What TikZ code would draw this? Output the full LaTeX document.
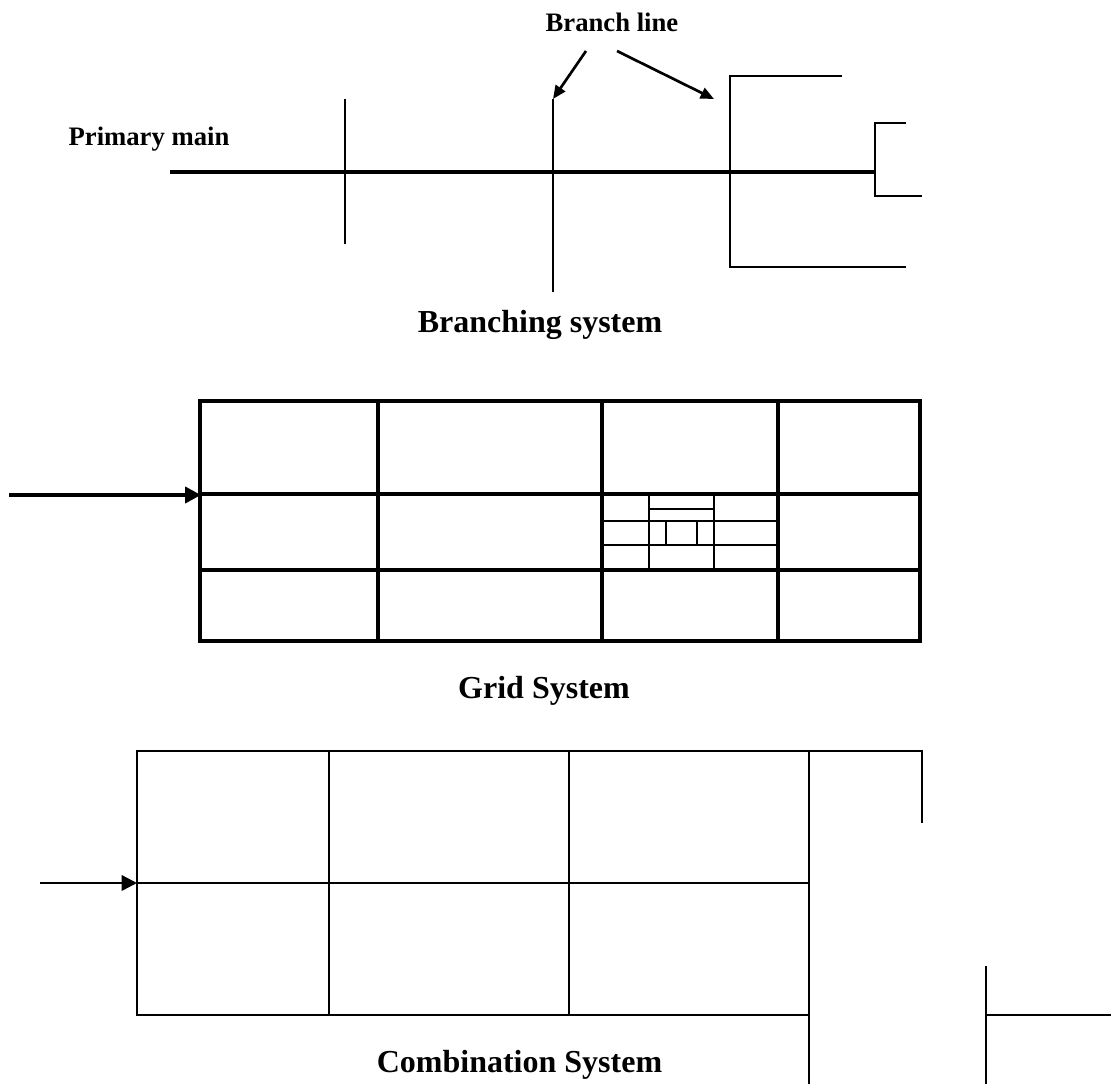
\documentclass[tikz,border=0pt]{standalone}
\usepackage{fontspec}
\setmainfont{Liberation Serif}
\usetikzlibrary{arrows.meta}
\begin{document}
\begin{tikzpicture}[x=0.75pt,y=-0.75pt,
  title/.style={font=\fontsize{24}{28}\selectfont\bfseries, anchor=base, inner sep=0pt},
  lbl/.style={font=\fontsize{20}{24}\selectfont\bfseries, anchor=base, inner sep=0pt},
  mainline/.style={line width=3.6pt},
  brline/.style={line width=1.5pt},
  brhoriz/.style={line width=2pt},
  gridline/.style={line width=3.5pt},
  subline/.style={line width=1.1pt},
  combline/.style={line width=1.5pt},
  bigarrow/.style={line width=3pt, -{Triangle[length=12pt,width=12pt]}},
  midarrow/.style={line width=1.9pt, -{Triangle[length=11.5pt,width=11.5pt]}},
  smallarrow/.style={line width=2pt, -{Triangle[length=10pt,width=8.5pt]}}]
\useasboundingbox (0,0) rectangle (1111,1084);

% ---------- Branching system ----------
\node[lbl] (branchlbl) at (612,32) {Branch line};
\node[lbl] (primarylbl) at (149,146) {Primary main};
\draw[mainline] (170,172) -- (875,172);
\draw[brline] (345,99) -- (345,244);
\draw[brline] (553,99) -- (553,292);
\draw[brhoriz] (842,76) -- (730,76) -- (730,267) -- (906,267);
\draw[brhoriz] (906,123) -- (875,123) -- (875,196) -- (922,196);
\coordinate (a1s) at (586,51);
\coordinate (a1e) at (553,99);
\coordinate (a2s) at (617,51);
\coordinate (a2e) at (714,99);
\draw[smallarrow] (a1s) -- (a1e);
\draw[smallarrow] (a2s) -- (a2e);
\node[title] (branchtitle) at (540,333) {Branching system};

% ---------- Grid system ----------
\draw[gridline] (200,401) rectangle (920,641);
\foreach \gx in {378,602,778} \draw[gridline] (\gx,401) -- (\gx,641);
\foreach \gy in {494,570} \draw[gridline] (200,\gy) -- (920,\gy);
\draw[subline] (649,494) -- (649,570);
\draw[subline] (714,494) -- (714,570);
\draw[subline] (649,509) -- (714,509);
\draw[subline] (602,521) -- (778,521);
\draw[subline] (602,545) -- (778,545);
\draw[subline] (666,521) -- (666,545);
\draw[subline] (697,521) -- (697,545);
\coordinate (gridin) at (9,495);
\coordinate (gridentry) at (201,495);
\draw[bigarrow] (gridin) -- (gridentry);
\node[title] (gridtitle) at (544,698) {Grid System};

% ---------- Combination system ----------
\draw[combline] (137,751) rectangle (809,1015);
\draw[combline] (329,751) -- (329,1015);
\draw[combline] (569,751) -- (569,1015);
\draw[combline] (137,883) -- (809,883);
\draw[combline] (809,751) -- (809,1084);
\draw[combline] (809,751) -- (922,751) -- (922,823);
\draw[combline] (986,966) -- (986,1084);
\draw[combline] (986,1015) -- (1111,1015);
\coordinate (combin) at (40,883);
\coordinate (combentry) at (137,883);
\draw[midarrow] (combin) -- (combentry);
\node[title] (combtitle) at (519.5,1072) {Combination System};
\end{tikzpicture}
\end{document}
